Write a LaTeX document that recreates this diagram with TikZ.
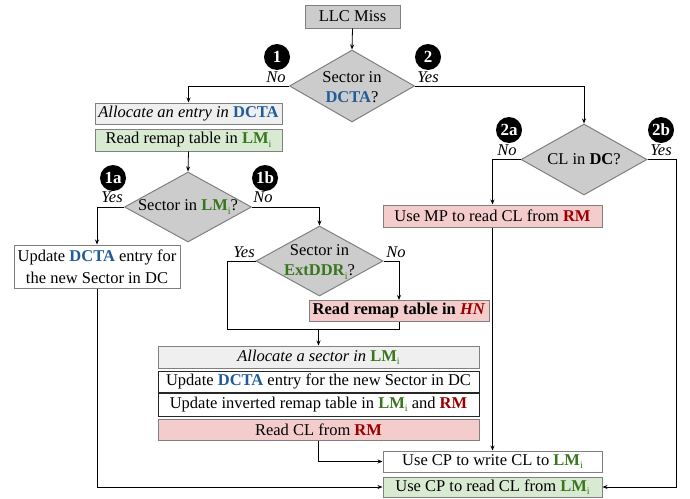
\documentclass[tikz,border=0pt]{standalone}
\usepackage{fontspec}
\setmainfont{Liberation Serif}
\usetikzlibrary{shapes.geometric,arrows.meta}
\definecolor{cblue}{RGB}{31,92,153}
\definecolor{cgreen}{RGB}{56,118,29}
\definecolor{cred}{RGB}{153,0,0}
\definecolor{bgray}{RGB}{204,204,204}
\definecolor{lgray}{RGB}{239,239,239}
\definecolor{lgreen}{RGB}{217,234,211}
\definecolor{lpink}{RGB}{244,204,204}
\definecolor{edgegray}{RGB}{128,128,128}
\newcommand\mysubi{\raisebox{-0.45ex}{\fontsize{10}{10}\selectfont\mdseries i}}
\newcommand\myDCTA{\textcolor{cblue}{\textbf{DCTA}}}
\newcommand\myLMi{\textcolor{cgreen}{\textbf{LM}\mysubi}}
\newcommand\myRM{\textcolor{cred}{\textbf{RM}}}
\begin{document}
\begin{tikzpicture}[x=1pt,y=-1pt,
  font=\fontsize{16.5}{19}\selectfont,
  box/.style={draw=edgegray, line width=1pt, inner sep=0pt, align=center},
  dbox/.style={draw=black!85, line width=1pt, inner sep=0pt, align=center},
  dia/.style={diamond, draw=edgegray, fill=bgray, line width=1pt, inner sep=0pt},
  badge/.style={circle, fill=black, minimum size=26pt, inner sep=0pt, text=white, font=\fontsize{17}{17}\selectfont\bfseries},
  yn/.style={inner sep=0pt, font=\fontsize{16.5}{16.5}\selectfont\itshape},
  conn/.style={line width=0.8pt, draw=black},
  arr/.style={conn, -{Stealth[length=5pt,width=4pt]}}]
\useasboundingbox (0,0) rectangle (690,498);

% boxes
\node[box, fill=bgray, minimum width=95pt, minimum height=23pt] (llc) at (352.5,16.5) {LLC Miss};
\node[box, fill=lgray, minimum width=187pt, minimum height=21pt] (alloc1) at (188.5,113.5) {\textit{Allocate an entry in} \myDCTA};
\node[box, fill=lgreen, minimum width=187pt, minimum height=22pt] (read1) at (188.5,140) {Read remap table in \myLMi};
\node[box, fill=white, minimum width=166pt, minimum height=43pt, font=\fontsize{16.5}{22}\selectfont] (upd1) at (97,266.5) {Update \myDCTA{} entry for\\the new Sector in DC};
\node[box, fill=lpink, minimum width=180pt, minimum height=21pt] (hn) at (399,311) {\textbf{Read remap table in \textcolor{cred}{\textit{HN}}}};
\node[box, fill=lgray, minimum width=321pt, minimum height=22pt] (alloc2) at (318.5,357) {\textit{Allocate a sector in} \myLMi};
\node[dbox, fill=white, minimum width=321pt, minimum height=21pt] (upd2) at (318.5,381.5) {Update \myDCTA{} entry for the new Sector in DC};
\node[dbox, fill=white, minimum width=321pt, minimum height=23pt] (inv) at (318.5,404.5) {Update inverted remap table in \myLMi{} and \myRM};
\node[box, fill=lpink, minimum width=321pt, minimum height=21pt] (readcl) at (318.5,429.5) {Read CL from \myRM};
\node[box, fill=lpink, minimum width=219pt, minimum height=22pt] (usemp) at (492.5,216) {Use MP to read CL from \myRM};
\node[box, fill=white, minimum width=219pt, minimum height=21pt] (cpw) at (492.5,461.5) {Use CP to write CL to \myLMi};
\node[box, fill=lgreen, minimum width=219pt, minimum height=20pt] (cpr) at (492.5,487) {Use CP to read CL from \myLMi};

% diamonds
\node[dia, minimum width=125pt, minimum height=72pt] (d1) at (352,86) {};
\node[align=center, inner sep=0pt, font=\fontsize{16.5}{20}\selectfont] (d1t) at (352,87) {Sector in\\\myDCTA?};
\node[dia, minimum width=127pt, minimum height=70pt] (d1a) at (188,207) {};
\node[inner sep=0pt] (d1at) at (188,207) {Sector in \myLMi?};
\node[dia, minimum width=126pt, minimum height=71pt] (d2) at (584,159.5) {};
\node[inner sep=0pt] (d2t) at (584,159.5) {CL in \textbf{DC}?};
\node[dia, minimum width=127pt, minimum height=70pt] (dext) at (319.5,261) {};
\node[align=center, inner sep=0pt, font=\fontsize{16.5}{20}\selectfont] (dextt) at (319.5,262) {Sector in\\\textcolor{cgreen}{\textbf{ExtDDR}\mysubi}?};

% badges and yes/no
\node[badge] (b1) at (277,57) {1};
\node[yn] (n1) at (276,77) {No};
\node[badge] (b2) at (428,57) {2};
\node[yn] (y2) at (428,77) {Yes};
\node[badge] (b1a) at (113,178) {1a};
\node[yn] (y1a) at (112,197) {Yes};
\node[badge] (b1b) at (265,178) {1b};
\node[yn] (n1b) at (263,197) {No};
\node[badge] (b2a) at (509,130) {2a};
\node[yn] (n2a) at (507,150) {No};
\node[badge] (b2b) at (661,130) {2b};
\node[yn] (y2b) at (661,150) {Yes};
\node[yn] (yext) at (244,252) {Yes};
\node[yn] (next) at (396,252) {No};

% helper coordinates
\coordinate (jl) at (227,329);
\coordinate (jm) at (318.5,329);
\coordinate (jr) at (399,329);
\coordinate (rc) at (676,487);

% connectors
\draw[arr] (llc.south) -- (d1.north);
\draw[arr] (d1.west) -| (alloc1.north);
\draw[arr] (read1.south) -- (d1a.north);
\draw[arr] (d1a.west) -| (upd1.north);
\draw[arr] (d1a.east) -| (dext.north);
\draw[conn] (dext.west) -| (jl) -- (jr) -- (hn.south);
\draw[arr] (jm) -- (alloc2.north);
\draw[arr] (dext.east) -| (hn.north);
\draw[arr] (readcl.south) |- (cpw.west);
\draw[arr] (upd1.south) |- (cpr.west);
\draw[arr] (d1.east) -| (d2.north);
\draw[arr] (d2.west) -| (usemp.north);
\draw[arr] (usemp.south) -- (cpw.north);
\draw[arr] (d2.east) -| (rc) -- (cpr.east);
\end{tikzpicture}
\end{document}
